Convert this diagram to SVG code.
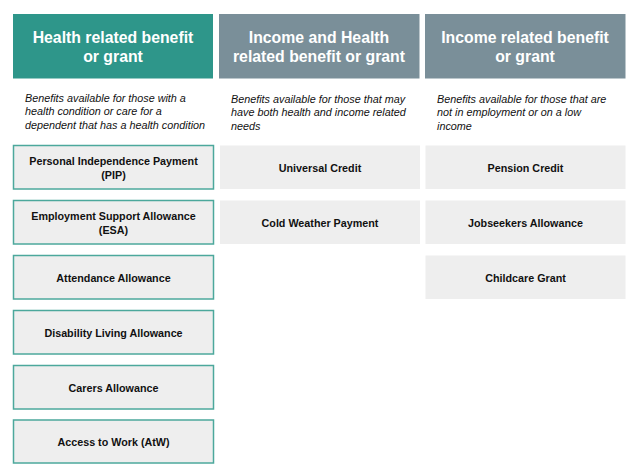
<svg xmlns="http://www.w3.org/2000/svg" width="637" height="475" viewBox="0 0 637 475">
<style>
.hd{font-family:"Liberation Sans",Arial,sans-serif;font-weight:bold;font-size:15.8px;fill:#ffffff;text-anchor:middle}
.ds{font-family:"Liberation Sans",Arial,sans-serif;font-style:italic;font-size:10.8px;fill:#111111}
.bx{font-family:"Liberation Sans",Arial,sans-serif;font-weight:bold;font-size:10.75px;fill:#111111;text-anchor:middle}
.hb{fill:#eeeeee;stroke:#4ca89c;stroke-width:1.5}
.gb{fill:#eeeeee}
</style>
<rect width="637" height="475" fill="#ffffff"/>
<g id="header-health">
<rect x="13" y="14" width="200" height="64.5" fill="#2e968a"/>
<text class="hd" x="113" y="43">Health related benefit</text>
<text class="hd" x="113" y="62">or grant</text>
</g>
<g id="header-both">
<rect x="219" y="14" width="200.5" height="64.5" fill="#7a8f99"/>
<text class="hd" x="319" y="43">Income and Health</text>
<text class="hd" x="319" y="62">related benefit or grant</text>
</g>
<g id="header-income">
<rect x="425" y="14" width="200.5" height="64.5" fill="#7a8f99"/>
<text class="hd" x="525" y="43">Income related benefit</text>
<text class="hd" x="525" y="62">or grant</text>
</g>
<g id="desc-health">
<text class="ds" x="25" y="102">Benefits available for those with a</text>
<text class="ds" x="25" y="115">health condition or care for a</text>
<text class="ds" x="25" y="129">dependent that has a health condition</text>
</g>
<g id="desc-both">
<text class="ds" x="231" y="103">Benefits available for those that may</text>
<text class="ds" x="231" y="116">have both health and income related</text>
<text class="ds" x="231" y="130">needs</text>
</g>
<g id="desc-income">
<text class="ds" x="437" y="103">Benefits available for those that are</text>
<text class="ds" x="437" y="116">not in employment or on a low</text>
<text class="ds" x="437" y="130">income</text>
</g>
<g id="pip">
<rect class="hb" x="13.5" y="145.5" width="200" height="43.5"/>
<text class="bx" x="113.5" y="165">Personal Independence Payment</text>
<text class="bx" x="113.5" y="179">(PIP)</text>
</g>
<g id="esa">
<rect class="hb" x="13.5" y="200.5" width="200" height="43.5"/>
<text class="bx" x="113.5" y="220">Employment Support Allowance</text>
<text class="bx" x="113.5" y="234">(ESA)</text>
</g>
<g id="aa">
<rect class="hb" x="13.5" y="255.5" width="200" height="43.5"/>
<text class="bx" x="113.5" y="281.5">Attendance Allowance</text>
</g>
<g id="dla">
<rect class="hb" x="13.5" y="310.5" width="200" height="43.5"/>
<text class="bx" x="113.5" y="336.5">Disability Living Allowance</text>
</g>
<g id="ca">
<rect class="hb" x="13.5" y="365.5" width="200" height="43.5"/>
<text class="bx" x="113.5" y="391.5">Carers Allowance</text>
</g>
<g id="atw">
<rect class="hb" x="13.5" y="420" width="200" height="43"/>
<text class="bx" x="113.5" y="446">Access to Work (AtW)</text>
</g>
<g id="uc">
<rect class="gb" x="220" y="145.5" width="200" height="43.5"/>
<text class="bx" x="320" y="172">Universal Credit</text>
</g>
<g id="cwp">
<rect class="gb" x="220" y="200.5" width="200" height="43.5"/>
<text class="bx" x="320" y="227">Cold Weather Payment</text>
</g>
<g id="pc">
<rect class="gb" x="425.5" y="145.5" width="200" height="43.5"/>
<text class="bx" x="525.5" y="172">Pension Credit</text>
</g>
<g id="jsa">
<rect class="gb" x="425.5" y="200.5" width="200" height="43.5"/>
<text class="bx" x="525.5" y="227">Jobseekers Allowance</text>
</g>
<g id="cg">
<rect class="gb" x="425.5" y="255.5" width="200" height="43.5"/>
<text class="bx" x="525.5" y="282">Childcare Grant</text>
</g>
<g id="connectors"/>
</svg>
